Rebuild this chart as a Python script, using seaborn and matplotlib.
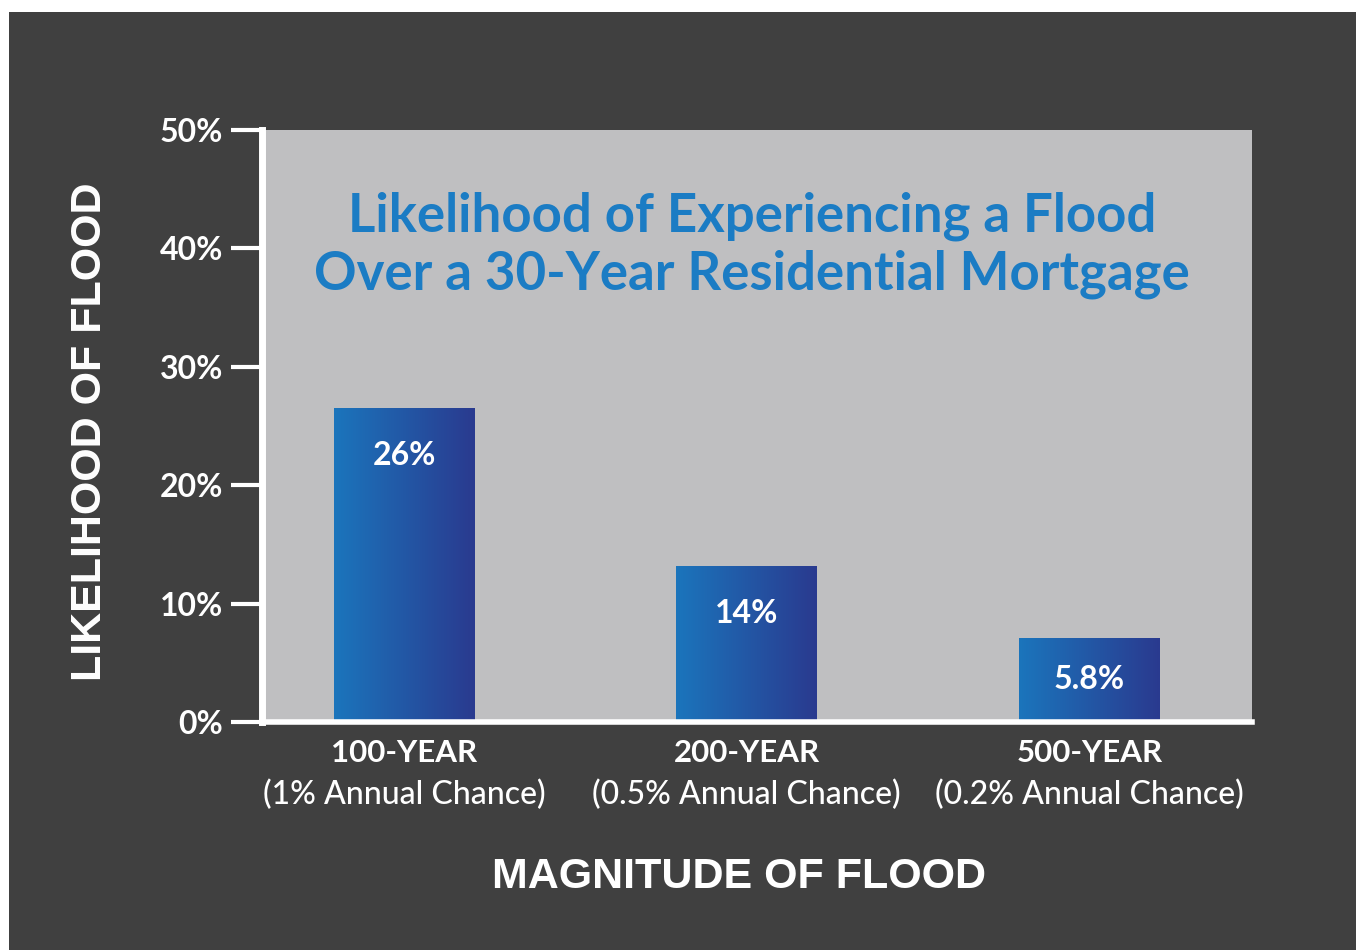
import numpy as np
import pandas as pd
import matplotlib
matplotlib.use("Agg")
import matplotlib.pyplot as plt
import seaborn as sns
from matplotlib.patches import Rectangle
from matplotlib.colors import LinearSegmentedColormap

# data
categories = ["100-YEAR", "200-YEAR", "500-YEAR"]
subtitles = ["(1% Annual Chance)", "(0.5% Annual Chance)", "(0.2% Annual Chance)"]
bar_heights = [26.5, 13.2, 7.1]
bar_labels = ["26%", "14%", "5.8%"]
yticks = [0, 10, 20, 30, 40, 50]

sns.set_theme(style="white")
plt.rcParams["font.family"] = ["Lato", "DejaVu Sans"]

df = pd.DataFrame({"magnitude": categories, "likelihood": bar_heights})

fig = plt.figure(figsize=(13.56, 9.5), dpi=100, facecolor="white")
# dark panel behind everything
fig.patches.append(Rectangle((9 / 1356, 0), 1347 / 1356, 938 / 950,
                             transform=fig.transFigure, facecolor="#404040",
                             edgecolor="none", zorder=-10))

ax = fig.add_axes([262 / 1356, 1 - 722 / 950, 990 / 1356, 592 / 950])
ax.set_facecolor("#bfbfc1")

sns.barplot(data=df, x="magnitude", y="likelihood", ax=ax, width=0.41,
            color="#1b75bc", edgecolor="none", saturation=1)
ax.set_xlabel("")
ax.set_ylabel("")

# horizontal gradient on each bar
grad = LinearSegmentedColormap.from_list("blue", ["#1b75bc", "#2a3a8f"])
for p in ax.patches:
    x0, y0 = p.get_x(), p.get_y()
    w, h = p.get_width(), p.get_height()
    im = ax.imshow(np.linspace(0, 1, 256).reshape(1, -1), cmap=grad,
                   extent=[x0, x0 + w, y0, y0 + h], aspect="auto", zorder=2)
    im.set_clip_path(p)

for i, lab in enumerate(bar_labels):
    ypos = bar_heights[i] - 4.0 if bar_heights[i] > 10 else bar_heights[i] / 2
    ax.text(i, ypos, lab, color="white", fontsize=23, fontweight="bold",
            ha="center", va="center", zorder=3)

ax.set_xlim(-0.415, 2.475)
ax.set_ylim(0, 50)
ax.set_yticks(yticks)
ax.set_yticklabels([f"{t}%" for t in yticks], color="white", fontsize=23,
                   fontweight="bold")
ax.tick_params(axis="y", length=22, width=3, color="white", pad=6, left=True)
ax.tick_params(axis="x", length=0)
ax.set_xticks(range(len(categories)))
ax.set_xticklabels([])

for s in ["top", "right"]:
    ax.spines[s].set_visible(False)
ax.spines["left"].set_color("white")
ax.spines["left"].set_linewidth(5)
ax.spines["bottom"].set_color("white")
ax.spines["bottom"].set_linewidth(4)

tr = ax.get_xaxis_transform()
for i, (c, s) in enumerate(zip(categories, subtitles)):
    ax.text(i, -0.052, c, transform=tr, color="white", fontsize=22.5,
            fontweight="bold", ha="center", va="center", clip_on=False)
    ax.text(i, -0.123, s, transform=tr, color="white", fontsize=23,
            fontweight="medium", ha="center", va="center", clip_on=False)

ax.text(0.495, 0.805, "Likelihood of Experiencing a Flood\nOver a 30-Year Residential Mortgage",
        transform=ax.transAxes, color="#1b7cc4", fontsize=38, fontweight="bold",
        ha="center", va="center", linespacing=1.2)

fig.text(90 / 1356, 1 - 432 / 950, "LIKELIHOOD OF FLOOD", rotation=90,
         color="white", fontsize=31, fontweight="bold",
         family=["Liberation Sans", "DejaVu Sans"], ha="center", va="center")
fig.text(739 / 1356, 1 - 877 / 950, "MAGNITUDE OF FLOOD",
         color="white", fontsize=31, fontweight="bold",
         family=["Liberation Sans", "DejaVu Sans"], ha="center", va="center")

fig.savefig("out.png", dpi=100, facecolor=fig.get_facecolor())
